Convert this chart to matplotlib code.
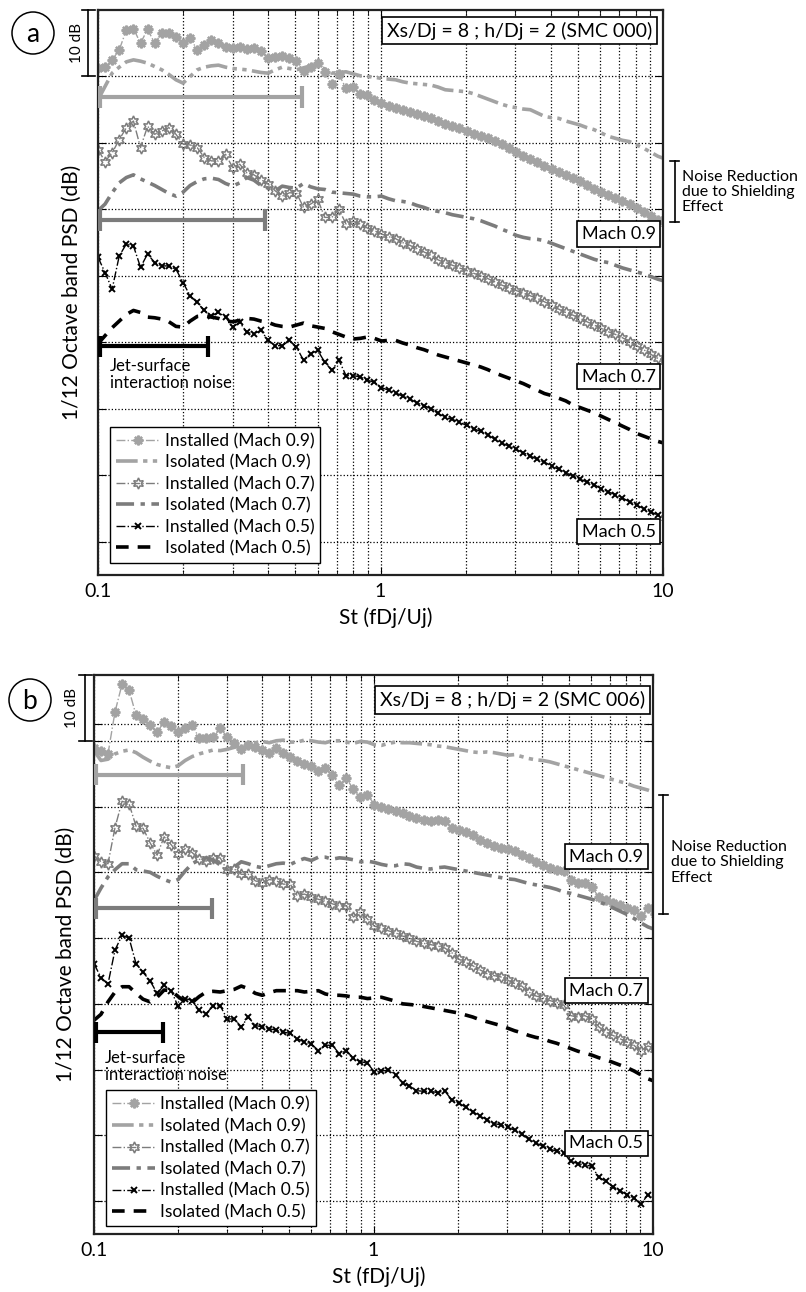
import numpy as np
import matplotlib.pyplot as plt
from matplotlib.patches import Ellipse
from matplotlib.ticker import NullFormatter

plt.rcParams['font.family'] = ['Lato', 'DejaVu Sans']

# 1/12 octave band centres (St)
ST = [0.1000, 0.1059, 0.1122, 0.1189, 0.1260, 0.1335, 0.1414, 0.1498, 0.1587, 0.1682, 0.1782, 0.1888,
      0.2000, 0.2119, 0.2245, 0.2378, 0.2520, 0.2670, 0.2828, 0.2997, 0.3175, 0.3364, 0.3564, 0.3776,
      0.4000, 0.4238, 0.4490, 0.4757, 0.5040, 0.5339, 0.5657, 0.5993, 0.6350, 0.6727, 0.7127, 0.7551,
      0.8000, 0.8476, 0.8980, 0.9514, 1.008, 1.068, 1.131, 1.199, 1.270, 1.345, 1.425, 1.510,
      1.600, 1.695, 1.796, 1.903, 2.016, 2.136, 2.263, 2.397, 2.540, 2.691, 2.851, 3.020,
      3.200, 3.390, 3.592, 3.805, 4.032, 4.271, 4.525, 4.795, 5.080, 5.382, 5.702, 6.041,
      6.400, 6.781, 7.184, 7.611, 8.063, 8.543, 9.051, 9.589, 10.16]

# ---- panel (a), SMC 000 (relative dB)
A_INST_09 = [91.3, 91.5, 92.5, 94.0, 97.0, 97.2, 95.0, 97.1, 95.0, 96.5,
             96.5, 96.0, 95.0, 95.8, 94.0, 94.8, 95.5, 95.0, 94.4, 94.3,
             94.4, 94.2, 94.3, 93.9, 92.8, 93.0, 93.1, 92.8, 92.3, 90.8,
             91.5, 92.0, 90.6, 88.8, 90.3, 88.2, 88.4, 87.3, 87.2, 86.5,
             86.0, 85.6, 85.2, 85.0, 84.6, 84.3, 84.0, 83.7, 83.3, 82.9,
             82.6, 82.2, 81.8, 81.4, 81.1, 80.7, 80.3, 79.8, 79.2, 78.6,
             78.1, 77.6, 77.1, 76.6, 76.1, 75.7, 75.2, 74.8, 74.3, 73.7,
             73.1, 72.6, 72.1, 71.7, 71.3, 70.8, 70.2, 69.6, 69.0, 68.4, 67.9]
A_ISO_09 = [86.5, 88.5, 90.5, 91.4, 92.2, 92.5, 92.3, 92.0, 91.5, 91.0,
            90.3, 89.5, 89.0, 90.0, 91.0, 91.4, 91.6, 91.7, 91.4, 91.2,
            91.1, 91.0, 90.8, 90.6, 90.5, 91.0, 91.4, 91.2, 91.0, 91.3,
            91.6, 91.7, 91.1, 90.5, 90.6, 90.7, 90.4, 90.1, 90.0, 89.9,
            89.7, 89.6, 89.5, 89.2, 89.0, 88.9, 88.8, 88.7, 88.4, 88.0,
            87.9, 87.8, 87.7, 87.4, 87.0, 86.6, 86.2, 85.8, 85.5, 85.3,
            85.1, 85.0, 84.5, 84.0, 83.8, 83.7, 83.3, 83.0, 82.7, 82.3,
            82.0, 81.5, 81.0, 80.7, 80.4, 80.2, 79.7, 79.2, 78.6, 78.0, 77.6]
A_INST_07 = [79.0, 77.2, 78.5, 80.5, 82.3, 83.3, 79.3, 82.5, 81.3, 81.8,
             82.3, 81.3, 79.8, 79.7, 79.3, 77.8, 77.3, 77.3, 78.3, 76.3,
             76.8, 75.5, 75.2, 74.5, 73.8, 72.8, 72.0, 72.5, 72.5, 70.3,
             70.8, 71.5, 68.8, 68.8, 70.0, 67.8, 68.2, 67.8, 67.2, 66.8,
             66.3, 65.9, 65.6, 65.0, 64.6, 64.1, 63.6, 63.1, 62.4, 62.0,
             61.6, 61.2, 60.8, 60.4, 60.0, 59.6, 59.1, 58.6, 58.2, 57.8,
             57.4, 57.0, 56.6, 56.1, 55.6, 55.0, 54.5, 54.1, 53.6, 53.1,
             52.6, 52.1, 51.6, 51.2, 50.7, 50.1, 49.5, 48.9, 48.2, 47.6, 47.2]
A_ISO_07 = [69.8, 70.8, 72.5, 74.0, 74.8, 75.2, 74.6, 74.1, 73.6, 73.0,
            72.4, 72.0, 72.6, 73.6, 74.2, 74.6, 74.7, 74.5, 73.9, 73.5,
            74.0, 74.8, 74.4, 73.6, 73.2, 72.8, 73.5, 73.3, 73.2, 73.9,
            73.4, 73.1, 73.0, 72.6, 72.5, 72.4, 72.3, 72.0, 71.9, 71.9,
            72.0, 71.6, 71.3, 71.2, 71.0, 70.6, 70.3, 69.9, 69.7, 69.5,
            69.2, 69.0, 68.8, 68.6, 68.3, 67.9, 67.5, 67.0, 66.6, 66.1,
            65.8, 65.6, 65.5, 65.3, 64.9, 64.5, 64.1, 63.7, 63.3, 62.9,
            62.5, 62.2, 62.0, 61.6, 61.2, 60.9, 60.6, 60.3, 59.9, 59.5, 59.2]
A_INST_05 = [62.8, 60.5, 58.0, 63.0, 64.8, 64.5, 61.3, 63.3, 62.0, 61.5,
             61.5, 61.0, 59.0, 57.0, 56.0, 54.8, 54.0, 54.5, 53.8, 52.3,
             53.0, 51.5, 51.3, 51.8, 50.3, 49.5, 49.5, 50.3, 49.3, 47.3,
             48.3, 48.8, 47.0, 45.8, 47.3, 45.0, 45.0, 44.8, 44.3, 44.0,
             43.2, 42.8, 42.4, 41.9, 41.5, 40.9, 40.5, 40.0, 39.3, 38.7,
             38.4, 38.0, 37.5, 37.0, 36.6, 36.1, 35.4, 34.8, 34.4, 33.9,
             33.4, 32.9, 32.4, 32.0, 31.4, 30.9, 30.4, 29.9, 29.4, 29.0,
             28.6, 28.0, 27.5, 27.1, 26.6, 26.0, 25.5, 25.0, 24.5, 24.0, 23.6]
A_ISO_05 = [49.8, 51.0, 52.2, 53.2, 54.2, 54.8, 54.5, 53.8, 53.7, 53.5,
            53.1, 52.4, 52.3, 53.2, 53.9, 54.0, 53.8, 53.6, 53.2, 53.1,
            53.3, 53.6, 53.5, 53.2, 53.0, 52.6, 52.4, 52.3, 52.6, 52.9,
            52.5, 52.3, 52.1, 51.6, 51.2, 50.8, 50.5, 50.6, 50.8, 50.6,
            50.2, 50.3, 50.3, 49.9, 49.6, 49.2, 48.9, 48.5, 48.1, 47.8,
            47.5, 47.2, 46.9, 46.6, 46.3, 45.9, 45.4, 45.0, 44.6, 44.2,
            43.8, 43.3, 42.8, 42.3, 42.0, 41.6, 41.2, 40.6, 40.2, 39.8,
            39.4, 38.9, 38.4, 37.9, 37.4, 36.9, 36.3, 35.9, 35.5, 35.1, 34.8]

# ---- panel (b), SMC 006
B_INST_09 = [88.9, 88.4, 88.0, 94.4, 98.6, 97.7, 93.9, 93.3, 92.4, 91.3,
             92.9, 92.3, 91.4, 91.9, 92.4, 90.4, 90.4, 90.5, 91.9, 90.6,
             89.6, 88.7, 89.4, 89.0, 88.6, 88.1, 88.9, 88.1, 87.6, 86.9,
             86.4, 86.1, 85.4, 85.9, 84.8, 83.3, 84.3, 82.6, 81.4, 81.8,
             80.3, 80.0, 79.6, 79.3, 79.0, 78.6, 78.3, 78.0, 77.8, 77.9,
             77.8, 76.8, 76.5, 76.2, 75.6, 74.9, 74.4, 74.0, 73.7, 73.5,
             73.2, 72.6, 72.1, 71.6, 71.1, 70.7, 70.4, 70.2, 68.8, 68.4,
             68.4, 67.8, 66.2, 65.8, 65.4, 65.0, 64.6, 64.2, 63.3, 64.6, 63.6]
B_ISO_09 = [88.5, 87.0, 87.2, 88.0, 88.4, 88.6, 88.2, 87.5, 86.9, 86.4,
            86.1, 85.9, 86.2, 87.0, 87.6, 88.0, 88.3, 88.6, 88.5, 88.7,
            89.0, 89.3, 89.5, 89.7, 89.9, 89.7, 90.0, 90.1, 89.8, 89.8,
            90.1, 90.0, 89.8, 89.7, 90.0, 90.0, 89.8, 89.6, 89.9, 89.8,
            89.4, 89.3, 89.6, 89.8, 89.7, 89.7, 89.6, 89.5, 89.4, 89.2,
            89.1, 88.9, 88.7, 88.5, 88.3, 88.2, 88.3, 88.2, 88.0, 87.8,
            87.9, 87.6, 87.3, 87.1, 87.0, 86.8, 86.5, 86.2, 85.9, 85.6,
            85.3, 85.0, 84.7, 84.4, 84.1, 83.8, 83.5, 83.1, 82.8, 82.5, 82.1]
B_INST_07 = [72.5, 71.6, 71.3, 76.8, 80.8, 80.4, 77.0, 76.7, 74.5, 72.6,
             75.4, 74.2, 72.8, 73.6, 73.0, 72.0, 71.7, 72.2, 72.2, 70.3,
             70.5, 69.7, 69.7, 68.7, 68.4, 68.9, 68.7, 68.2, 68.2, 66.4,
             66.7, 66.2, 65.9, 65.6, 65.2, 64.9, 64.9, 63.2, 63.9, 62.9,
             61.8, 61.5, 61.1, 60.8, 60.3, 60.0, 59.5, 59.2, 59.0, 58.8,
             58.5, 57.8, 56.8, 56.3, 55.8, 55.2, 54.6, 54.3, 54.1, 53.6,
             53.1, 52.7, 51.8, 51.2, 50.9, 50.5, 50.2, 49.8, 48.2, 48.0,
             48.2, 47.7, 46.5, 45.7, 45.2, 44.7, 44.2, 43.7, 42.8, 43.6, 43.2]
B_ISO_07 = [65.7, 67.6, 69.3, 70.4, 71.3, 71.3, 70.4, 70.2, 70.0, 69.4,
            68.9, 68.5, 68.9, 70.2, 71.3, 71.9, 72.2, 71.9, 71.1, 70.4,
            70.8, 71.6, 71.3, 70.9, 70.7, 71.0, 71.3, 71.4, 71.2, 71.7,
            72.1, 71.8, 72.3, 72.3, 72.0, 72.2, 72.1, 71.9, 71.6, 71.7,
            71.5, 71.2, 71.0, 71.0, 71.3, 71.2, 70.8, 70.6, 70.5, 70.7,
            70.8, 70.6, 70.4, 70.2, 70.0, 69.8, 69.6, 69.4, 69.2, 69.0,
            68.9, 68.6, 68.3, 68.1, 67.9, 67.7, 67.4, 67.0, 66.8, 66.5,
            66.2, 65.9, 65.5, 65.1, 64.6, 64.1, 63.6, 63.0, 62.3, 61.7, 61.3]
B_INST_05 = [56.1, 54.0, 53.0, 58.2, 60.4, 60.0, 56.1, 54.8, 53.5, 51.6,
             52.8, 52.0, 49.6, 50.8, 50.5, 49.0, 48.5, 49.7, 49.7, 47.7,
             47.7, 46.5, 48.0, 46.7, 46.5, 46.2, 46.0, 45.7, 45.5, 44.7,
             44.2, 43.9, 42.9, 43.7, 43.7, 42.4, 42.9, 41.7, 41.2, 41.0,
             39.6, 39.8, 39.9, 39.2, 38.0, 37.5, 36.8, 36.7, 36.7, 36.5,
             36.8, 35.4, 34.9, 34.3, 33.6, 33.0, 32.4, 31.8, 31.6, 31.2,
             30.8, 30.2, 29.4, 28.8, 28.4, 27.9, 27.6, 27.3, 26.1, 25.7,
             25.5, 25.3, 23.6, 23.0, 22.2, 21.6, 21.0, 20.5, 19.5, 21.0, 20.3]
B_ISO_05 = [47.5, 48.4, 50.3, 51.8, 52.6, 52.6, 51.6, 50.7, 50.3, 51.0,
            52.1, 52.0, 51.1, 50.3, 50.2, 51.1, 51.8, 51.9, 51.8, 52.0,
            52.2, 52.7, 52.3, 51.6, 51.3, 51.7, 52.0, 52.0, 52.0, 52.0,
            51.8, 51.9, 52.0, 51.5, 51.3, 51.3, 51.2, 51.0, 51.0, 50.8,
            50.9, 51.0, 50.7, 50.4, 50.0, 49.9, 49.8, 49.6, 49.4, 49.2,
            49.0, 48.8, 48.6, 48.3, 48.0, 47.6, 47.3, 47.0, 46.7, 46.3,
            45.9, 45.6, 45.2, 44.9, 44.7, 44.3, 44.0, 43.6, 43.2, 42.8,
            42.5, 42.2, 41.8, 41.5, 41.1, 40.7, 40.3, 39.8, 39.2, 38.6, 38.2]

LABELS = ['Installed (Mach 0.9)', 'Isolated (Mach 0.9)', 'Installed (Mach 0.7)',
          'Isolated (Mach 0.7)', 'Installed (Mach 0.5)', 'Isolated (Mach 0.5)']
MACH = ['Mach 0.9', 'Mach 0.7', 'Mach 0.5']

# jet-surface interaction ranges: end St and level of the bar
A_JSI_END = [0.526, 0.389, 0.245]
A_JSI_LEVEL = [86.9, 68.4, 49.4]
B_JSI_END = [0.340, 0.264, 0.176]
B_JSI_LEVEL = [84.8, 64.5, 45.7]

LIGHT = '#a3a3a3'
MID = '#7c7c7c'
BAR_COLORS = [LIGHT, MID, 'black']

STYLES = [
    dict(color=LIGHT, ls='-.', lw=1.0, marker=(8, 2, 0), ms=7, mew=1.7),
    dict(color=LIGHT, ls=(0, (6, 1.5, 1.2, 1.5, 1.2, 1.5)), lw=2.6),
    dict(color=MID, ls='-.', lw=1.0, marker=(6, 1, 0), ms=8, mew=1.1, mfc='none'),
    dict(color=MID, ls=(0, (5, 1.8, 1.2, 1.8)), lw=2.6),
    dict(color='black', ls='-.', lw=1.0, marker='x', ms=5, mew=1.4),
    dict(color='black', ls=(0, (3.5, 2.5)), lw=2.6),
]


def draw_panel(ax, series, jsi_end, jsi_level, title, title_pos, mach_x, mach_y,
               txt_pos, bracket, extra_ticks, leg_y):
    lines = []
    for vals, lab, st in zip(series, LABELS, STYLES):
        ln, = ax.plot(ST, vals, label=lab, **st)
        lines.append(ln)

    ax.set_xscale('log')
    ax.set_xlim(0.1, 10)
    ax.set_ylim(15, 100)
    ax.set_yticks([20, 30, 40, 50, 60, 70, 80, 90] + extra_ticks)
    ax.set_yticklabels([])
    ax.set_xticks([0.1, 1, 10])
    ax.set_xticklabels(['0.1', '1', '10'])
    ax.xaxis.set_minor_formatter(NullFormatter())
    ax.tick_params(which='both', direction='in', top=True, right=True, labelsize=14, pad=6)
    ax.tick_params(which='major', length=6)
    ax.tick_params(which='minor', length=3.5)
    ax.grid(True, which='major', ls=':', color='black', lw=0.9)
    ax.grid(True, which='minor', axis='x', ls=':', color='black', lw=0.9)
    for sp in ax.spines.values():
        sp.set_linewidth(1.6)
        sp.set_color('#222222')

    # jet-surface interaction bars
    for e, lv, c in zip(jsi_end, jsi_level, BAR_COLORS):
        ax.plot([0.1, e], [lv, lv], color=c, lw=3, solid_capstyle='butt', zorder=5)
        ax.plot([e, e], [lv - 1.6, lv + 1.6], color=c, lw=3, solid_capstyle='butt', zorder=5)
        ax.plot([0.1015, 0.1015], [lv - 1.6, lv + 1.6], color=c, lw=3, solid_capstyle='butt', zorder=5)
    tr = ax.get_yaxis_transform()
    ax.text(txt_pos[0], txt_pos[1], 'Jet-surface\ninteraction noise', transform=tr,
            ha='left', va='top', fontsize=12, linespacing=1.05)

    box = dict(boxstyle='square,pad=0.25', fc='white', ec='black', lw=1.2)
    ax.text(title_pos[0], title_pos[1], title, transform=tr,
            ha='center', va='center', fontsize=14, bbox=box, zorder=10)
    for lab, y in zip(MACH, mach_y):
        ax.text(mach_x, y, lab, transform=tr, ha='center', va='center',
                fontsize=13, bbox=box, zorder=10)

    # 10 dB scale bar at upper left
    bx = bracket['scale_x']
    ax.plot([bx, bx], [90, 100], color='black', lw=1.2, transform=tr, clip_on=False)
    ax.plot([bx - 0.011, bx + 0.013], [100, 100], color='black', lw=1.2, transform=tr, clip_on=False)
    ax.plot([bx - 0.011, bx + 0.013], [90, 90], color='black', lw=1.2, transform=tr, clip_on=False)
    ax.text(bracket['scale_txt'], 95, '10 dB', rotation=90, transform=tr, ha='center', va='center',
            fontsize=11)

    # noise reduction bracket on the right
    rx = bracket['x']
    lo, hi = bracket['lo'], bracket['hi']
    ax.plot([rx, rx], [lo, hi], color='black', lw=1.2, transform=tr, clip_on=False)
    ax.plot([rx - 0.008, rx + 0.008], [lo, lo], color='black', lw=1.2, transform=tr, clip_on=False)
    ax.plot([rx - 0.008, rx + 0.008], [hi, hi], color='black', lw=1.2, transform=tr, clip_on=False)
    ax.text(bracket['tx'], bracket['ty'], 'Noise Reduction\ndue to Shielding\nEffect', transform=tr,
            ha='left', va='center', fontsize=11.5, linespacing=1.1)

    leg = ax.legend(handles=lines, loc='lower left', bbox_to_anchor=(0.021, leg_y), fontsize=12.5,
                    numpoints=1, handlelength=2.5, handletextpad=0.3, labelspacing=0.31,
                    borderpad=0.35, fancybox=False, framealpha=1, edgecolor='black', borderaxespad=0)
    leg.get_frame().set_linewidth(1.0)
    return lines


fig = plt.figure(figsize=(8.06, 12.92), dpi=100)
ax_a = fig.add_axes([98 / 806, 1 - 575 / 1292, 565 / 806, 565 / 1292])
ax_b = fig.add_axes([94 / 806, 1 - 1234 / 1292, 559 / 806, 559 / 1292])

draw_panel(ax_a, [A_INST_09, A_ISO_09, A_INST_07, A_ISO_07, A_INST_05, A_ISO_05],
           A_JSI_END, A_JSI_LEVEL, 'Xs/Dj = 8 ; h/Dj = 2 (SMC 000)', (0.746, 96.9),
           0.922, [66.3, 44.8, 21.5], (0.021, 47.6),
           dict(scale_x=-0.0177, scale_txt=-0.038, x=1.021, lo=68.1, hi=77.3, tx=1.033, ty=72.6), [], 0.022)
draw_panel(ax_b, [B_INST_09, B_ISO_09, B_INST_07, B_ISO_07, B_INST_05, B_ISO_05],
           B_JSI_END, B_JSI_LEVEL, 'Xs/Dj = 8 ; h/Dj = 2 (SMC 006)', (0.748, 96.2),
           0.916, [72.4, 52.0, 28.8], (0.02, 43.0),
           dict(scale_x=-0.016, scale_txt=-0.040, x=1.018, lo=63.6, hi=81.8, tx=1.032, ty=71.5), [92.5], 0.014)

for ax, lx, ly in [(ax_a, -0.046, -0.076), (ax_b, -0.051, -0.077)]:
    ax.text(lx, 0.5, '1/12 Octave band PSD (dB)', rotation=90, transform=ax.transAxes,
            ha='center', va='center', fontsize=15)
    ax.text(0.51, ly, 'St (fDj/Uj)', transform=ax.transAxes, ha='center', va='center', fontsize=15)

# panel letters
for letter, cx, cy in [('a', 33, 33), ('b', 30, 700)]:
    fig.add_artist(Ellipse((cx / 806, 1 - cy / 1292), 42 / 806, 42 / 1292, transform=fig.transFigure,
                           fc='white', ec='black', lw=1.1))
    fig.text(cx / 806, 1 - (cy + 2) / 1292, letter, ha='center', va='center', fontsize=19)

fig.savefig('out.png', dpi=100)
